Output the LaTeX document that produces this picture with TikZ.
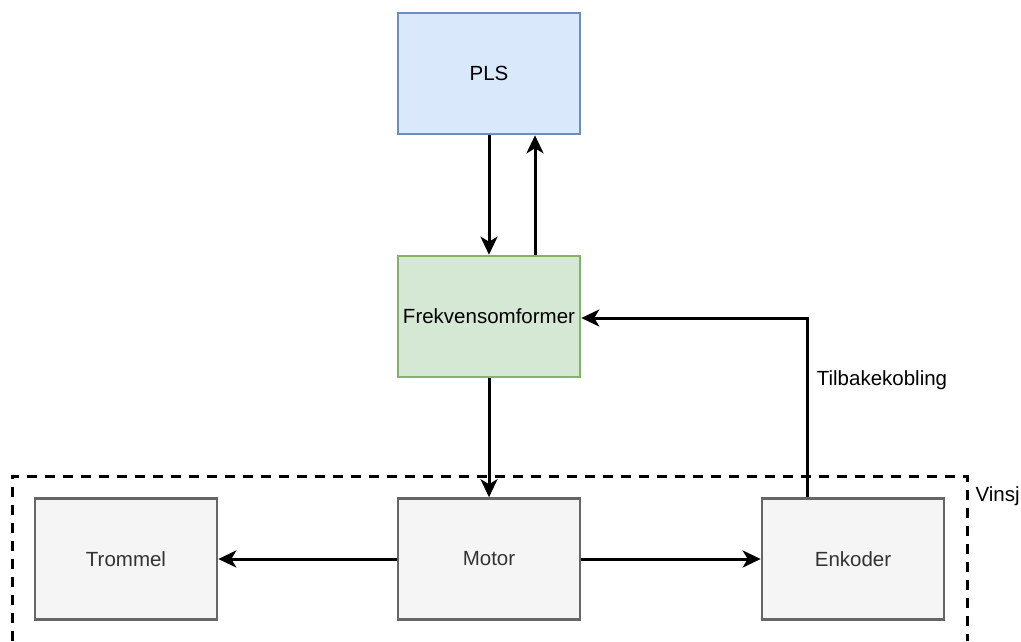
\documentclass[tikz,border=0pt]{standalone}
\usepackage{fontspec}
\setmainfont{Liberation Sans}
\usetikzlibrary{arrows.meta}
\definecolor{blueF}{HTML}{DAE8FC}\definecolor{blueD}{HTML}{6C8EBF}
\definecolor{greenF}{HTML}{D5E8D4}\definecolor{greenD}{HTML}{82B366}
\definecolor{grayF}{HTML}{F5F5F5}\definecolor{grayD}{HTML}{666666}
\definecolor{grayT}{HTML}{333333}
\begin{document}
\begin{tikzpicture}[x=1pt,y=-1pt,
  box/.style={draw, line width=2.6pt, minimum width=182pt, minimum height=121pt, inner sep=0pt, font=\fontsize{20.5}{24}\selectfont},
  bluebox/.style={box, fill=blueF, draw=blueD},
  greenbox/.style={box, fill=greenF, draw=greenD},
  graybox/.style={box, fill=grayF, draw=grayD, text=grayT},
  conn/.style={line width=3pt, -{Stealth[length=18pt,width=17pt,inset=5pt]}},
  lbl/.style={font=\fontsize{20.5}{24}\selectfont}]
\useasboundingbox (0,0) rectangle (1021,641);
\draw[line width=3pt, dash pattern=on 10pt off 8pt] (12,641) -- (12,476) -- (967,476) -- (967,641);
\node[lbl, anchor=west] (vinsj) at (972,496) {Vinsj};
\node[bluebox] (pls) at (489,73.5) {PLS};
\node[greenbox] (frek) at (489,316.5) {Frekvensomformer};
\node[graybox] (motor) at (489,559) {Motor};
\node[graybox] (trom) at (126,559) {Trommel};
\node[graybox] (enk) at (853,559) {Enkoder};
\draw[conn] (pls.south) -- (frek.north);
\draw[conn] (frek.north -| 535,0) -- (pls.south -| 535,0);
\draw[conn] (frek.south) -- (motor.north);
\draw[conn] (motor.west) -- (trom.east);
\draw[conn] (motor.east) -- (enk.east -| enk.west);
\coordinate (c1) at (807,318);
\draw[conn] (enk.north -| c1) -- (c1) -- (frek.east |- c1);
\node[lbl] (tb) at (882,380) {Tilbakekobling};
\end{tikzpicture}
\end{document}
